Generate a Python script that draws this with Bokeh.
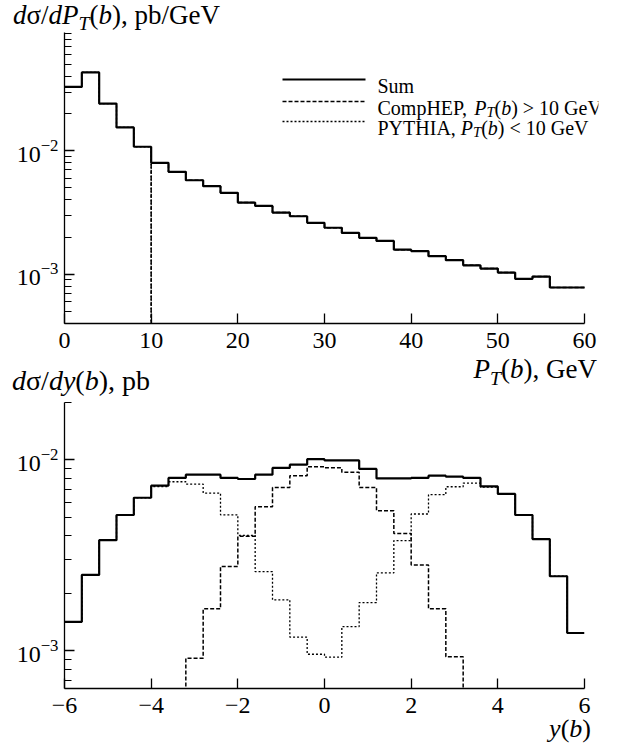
from bokeh.plotting import figure
from bokeh.models import (Range1d, FixedTicker, Label, Arrow, CustomJSTickFormatter,
                          LogTickFormatter, Div)
from bokeh.layouts import column
from bokeh.embed import file_html
from bokeh.resources import INLINE

FONT = "Liberation Serif"

# ---------------- data ----------------
pt_edges = list(range(0, 62, 2))
pt_sum = [0.0330, 0.0433, 0.0242, 0.0155, 0.0108, 0.0080, 0.00676, 0.00578, 0.00517, 0.00457,
          0.00381, 0.00358, 0.00316, 0.00295, 0.00261, 0.00238, 0.00216, 0.00197, 0.00186, 0.00158,
          0.00154, 0.00140, 0.00130, 0.00118, 0.00111, 0.00103, 0.000916, 0.000957, 0.00078, 0.00078]
pt_comphep = [0, 0, 0, 0, 0, 0.0080, 0.00676, 0.00578, 0.00517, 0.00457,
              0.00381, 0.00358, 0.00316, 0.00295, 0.00261, 0.00238, 0.00216, 0.00197, 0.00186, 0.00158,
              0.00154, 0.00140, 0.00130, 0.00118, 0.00111, 0.00103, 0.000916, 0.000957, 0.00078, 0.00078]
pt_pythia = [0.0330, 0.0433, 0.0242, 0.0155, 0.0108, 0, 0, 0, 0, 0,
             0, 0, 0, 0, 0, 0, 0, 0, 0, 0,
             0, 0, 0, 0, 0, 0, 0, 0, 0, 0]

y_edges = [round(-6 + 0.4 * i, 1) for i in range(31)]
y_sum = [0.00142, 0.0025, 0.0038, 0.00515, 0.00634, 0.00733, 0.00805, 0.00837, 0.00837, 0.00805,
         0.00795, 0.00837, 0.00908, 0.00945, 0.0101, 0.00995, 0.00995, 0.00897, 0.0080, 0.0080,
         0.00805, 0.00827, 0.00817, 0.00805, 0.00727, 0.00664, 0.00515, 0.00385, 0.00246, 0.00124]
y_pythia = [0.00142, 0.0025, 0.0038, 0.00515, 0.00634, 0.00725, 0.00769, 0.00748, 0.00671, 0.00516,
            0.00403, 0.0026, 0.00185, 0.00118, 0.00096, 0.000927, 0.00134, 0.00179, 0.00256, 0.00378,
            0.00521, 0.00658, 0.00724, 0.00757, 0.00720, 0.00664, 0.00515, 0.00385, 0.00246, 0.00124]
y_comphep = [0, 0, 0, 0, 0, 0, 0, 0.000915, 0.00166, 0.00277,
             0.00398, 0.00569, 0.00718, 0.00827, 0.00922, 0.0091, 0.00861, 0.00718, 0.00542, 0.00412,
             0.00282, 0.00166, 0.00093, 0, 0, 0, 0, 0, 0, 0]

pt_ticks = [0, 10, 20, 30, 40, 50, 60]
y_ticks = [-6, -4, -2, 0, 2, 4, 6]
log_major = [1e-3, 1e-2]
log_minor = [m * 10.0 ** e for e in (-4, -3, -2) for m in range(2, 10)]

legend_labels = [
    [("Sum", "normal", False)],
    [("CompHEP, ", "normal", False), ("P", "italic", False), ("T", "italic", True),
     ("(", "normal", False), ("b", "italic", False), (") > 10 GeV", "normal", False)],
    [("PYTHIA, ", "normal", False), ("P", "italic", False), ("T", "italic", True),
     ("(", "normal", False), ("b", "italic", False), (") < 10  GeV", "normal", False)],
]
title_top = [("d", "italic", False), ("σ/", "normal", False), ("dP", "italic", False),
             ("T", "italic", True), ("(", "normal", False), ("b", "italic", False),
             ("), pb/GeV", "normal", False)]
xlabel_top = [("P", "italic", False), ("T", "italic", True), ("(", "normal", False),
              ("b", "italic", False), ("), GeV", "normal", False)]
title_bot = [("d", "italic", False), ("σ/", "normal", False), ("dy", "italic", False),
             ("(", "normal", False), ("b", "italic", False), ("), pb", "normal", False)]
xlabel_bot = [("y", "italic", False), ("(", "normal", False), ("b", "italic", False),
              (")", "normal", False)]

# ---------------- helpers ----------------
W_N = {' ': 0.25, '(': 0.333, ')': 0.333, ',': 0.25, '/': 0.278, '<': 0.564, '>': 0.564,
       'C': 0.667, 'E': 0.611, 'G': 0.722, 'H': 0.722, 'I': 0.333, 'P': 0.556, 'S': 0.556,
       'T': 0.611, 'V': 0.722, 'Y': 0.722, 'A': 0.722, 'b': 0.5, 'e': 0.444, 'm': 0.778,
       'o': 0.5, 'p': 0.5, 'u': 0.5, 'σ': 0.55}
W_I = {'d': 0.5, 'P': 0.611, 'T': 0.556, 'b': 0.5, 'y': 0.444}
SUB = 0.73
W = 618


def text_w(t, style, size):
    tab = W_I if style == "italic" else W_N
    return sum(tab.get(c, W_N.get(c, 0.5)) for c in t) * size


def rich(fig, pieces, x, y, size, fl, fb):
    cx = x
    for t, st, sb in pieces:
        s = size * SUB if sb else size
        dy = 0.23 * size if sb else 0
        fig.add_layout(Label(x=cx - fl, y=fb - (y + dy), x_units="screen", y_units="screen",
                             text=t, text_font=FONT, text_font_style=st,
                             text_font_size=f"{s:.1f}px", text_baseline="alphabetic",
                             text_align="left", text_color="black"))
        cx += text_w(t, st, s)


def html_text(pieces, size, baseline, left=None, right=None):
    spans = ""
    for t, st, sb in pieces:
        s = size * SUB if sb else size
        top = 0.23 * size if sb else 0
        t = t.replace("  ", " &nbsp;")
        spans += (f'<span style="font-style:{st};font-size:{s:.1f}px;position:relative;'
                  f'top:{top:.1f}px">{t}</span>')
    top = baseline - 0.8375 * size
    pos = f"left:{left}px;" if left is not None else f"right:{right}px;"
    return (f'<div style="position:absolute;{pos}top:{top:.1f}px;font-size:{size}px;'
            f'line-height:{size}px;white-space:nowrap;">{spans}</div>')


def text_div(h, blocks):
    html = (f'<div style="position:relative;width:{W}px;height:{h}px;'
            f'font-family:\'Liberation Serif\';color:black;">' + "".join(blocks) + '</div>')
    return Div(text=html, width=W, height=h, margin=0, styles={"overflow": "visible"})


def floor(vals, lo):
    return [v if v > 0 else lo * 1e-3 for v in vals]


def style_axes(p, xticks, xbounds, xfmt):
    p.xaxis.ticker = FixedTicker(ticks=xticks)
    p.xaxis.bounds = xbounds
    p.yaxis.ticker = FixedTicker(ticks=log_major, minor_ticks=log_minor)
    p.yaxis.formatter = LogTickFormatter()
    if xfmt is not None:
        p.xaxis.formatter = xfmt
    for ax in (p.xaxis[0], p.yaxis[0]):
        ax.axis_line_color = "black"
        ax.axis_line_width = 1.3
        ax.major_tick_line_color = "black"
        ax.major_tick_line_width = 1.3
        ax.minor_tick_line_color = "black"
        ax.minor_tick_line_width = 1.2
        ax.major_tick_in = 10
        ax.major_tick_out = 0
        ax.minor_tick_in = 7
        ax.minor_tick_out = 0
        ax.major_label_text_font = FONT
        ax.major_label_text_font_size = "24px"
        ax.major_label_text_color = "black"
    p.xaxis.minor_tick_line_color = None
    p.xaxis.major_label_standoff = 9
    p.yaxis.major_label_standoff = 6
    p.xgrid.visible = False
    p.ygrid.visible = False
    p.outline_line_color = None


def make_fig(fw, fh, right, bottom, xr, yr):
    return figure(frame_width=fw, frame_height=fh, min_border_left=64, min_border_right=right,
                  min_border_top=2, min_border_bottom=bottom, x_range=xr, y_range=yr,
                  y_axis_type="log", output_backend="svg", toolbar_location=None,
                  background_fill_color="white", border_fill_color="white", margin=0)


FL = 64          # page x of frame left
DASH = "4 2"
DOT = "2 2"
TS = 27          # axis title font size

# ---------------- top panel ----------------
top_div = text_div(30, [html_text(title_top, TS, 24.5, left=13)])

yr1 = Range1d(10 ** -3.4, 10 ** -1.04)
xr1 = Range1d(0, 60 * 534 / 520)          # frame extends past 60 so the legend text is not clipped
p1 = make_fig(534, 291, 20, 36, xr1, yr1)
FB1 = 30 + 2 + 291
p1.step(pt_edges, floor(pt_pythia, yr1.start) + [floor(pt_pythia, yr1.start)[-1]], mode="after",
        line_color="black", line_width=1.3, line_dash=DOT)
p1.step(pt_edges, floor(pt_comphep, yr1.start) + [pt_comphep[-1]], mode="after",
        line_color="black", line_width=1.5, line_dash=DASH)
p1.step(pt_edges, pt_sum + [pt_sum[-1]], mode="after", line_color="black", line_width=2.2)
style_axes(p1, pt_ticks, (0, 60), None)

leg_y = [79, 101, 121]
dashes = [None, DASH, DOT]
widths = [2.0, 1.5, 1.3]
for yy, dsh, lw, lab in zip(leg_y, dashes, widths, legend_labels):
    kw = dict(line_dash=dsh) if dsh else {}
    p1.add_layout(Arrow(end=None, x_start=282 - FL, x_end=365 - FL, y_start=FB1 - yy, y_end=FB1 - yy,
                        start_units="screen", end_units="screen", line_color="black",
                        line_width=lw, **kw))
    rich(p1, lab, 377, yy + 6, 20, FL, FB1)

# ---------------- middle labels ----------------
MID_TOP = 30 + 2 + 291 + 36
mid_div = text_div(400 - MID_TOP, [html_text(xlabel_top, TS, 379 - MID_TOP, right=W - 597),
                                   html_text(title_bot, TS + 1, 390 - MID_TOP, left=12)])

# ---------------- bottom panel ----------------
yr2 = Range1d(6.35e-4, 2e-2)
p2 = make_fig(520, 286, 34, 36, Range1d(-6, 6), yr2)
minus_fmt = CustomJSTickFormatter(code="return tick < 0 ? '\\u2212' + Math.abs(tick) : String(tick);")
p2.step(y_edges, floor(y_pythia, yr2.start) + [y_pythia[-1]], mode="after",
        line_color="black", line_width=1.3, line_dash=DOT)
p2.step(y_edges, floor(y_comphep, yr2.start) + [floor(y_comphep, yr2.start)[-1]], mode="after",
        line_color="black", line_width=1.5, line_dash=DASH)
p2.step(y_edges, y_sum + [y_sum[-1]], mode="after", line_color="black", line_width=2.2)
style_axes(p2, y_ticks, (-6, 6), minus_fmt)

BOT_TOP = 400 + 2 + 286 + 36
bot_div = text_div(751 - BOT_TOP, [html_text(xlabel_bot, 26, 738 - BOT_TOP, right=W - 591)])

layout = column(top_div, p1, mid_div, p2, bot_div, spacing=0)
open("out.html", "w").write(file_html(layout, INLINE))
